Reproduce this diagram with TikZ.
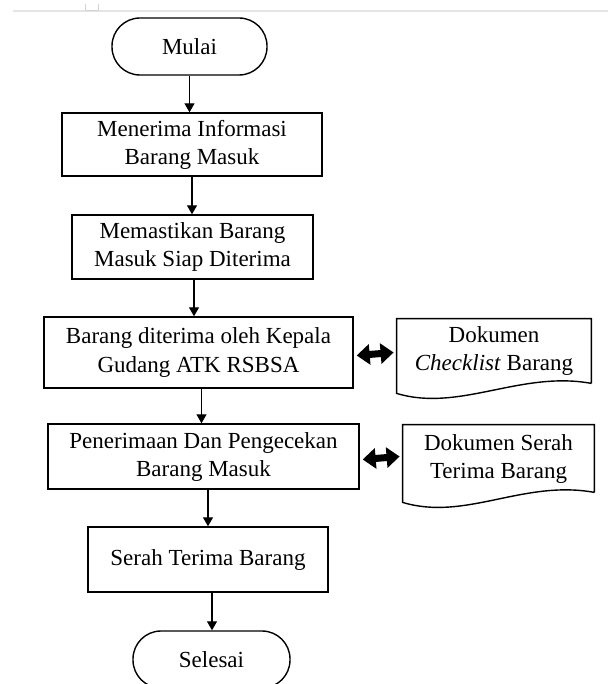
\documentclass[tikz,border=0pt]{standalone}
\usepackage{fontspec}
\setmainfont{Liberation Serif}
\usetikzlibrary{arrows.meta,calc}
\tikzset{>={Triangle[length=4.5pt,width=5pt]}}

\begin{document}
\begin{tikzpicture}[x=0.5pt, y=-0.5pt,
    font=\fontsize{11.5}{14}\selectfont,
    process/.style={draw, line width=0.7pt, align=center, inner sep=0pt},
    term/.style={draw, line width=0.7pt, rounded corners=14pt, inner sep=0pt},
    docbox/.style={align=center, inner sep=0pt},
    flow/.style={->, line width=0.6pt},
    link/.style={{Triangle[length=6.5pt,width=10pt]}-{Triangle[length=6.5pt,width=10pt]}, line width=3.5pt}]
  \useasboundingbox (0,0) rectangle (608,684);
  % page edge
  \draw[gray!20, line width=1pt] (13,11) -- (608,11);
  \draw[gray!35, line width=0.5pt] (85,4) -- (85,11) -- (98,11) -- (98,4);
  % steps
  \node[term, minimum width=77.5pt, minimum height=28.5pt] (start) at (189.5,46.5) {Mulai};
  \node[process, minimum width=130pt, minimum height=31.5pt] (info) at (192,144.5) {Menerima Informasi\\Barang Masuk};
  \node[process, minimum width=120.5pt, minimum height=32pt] (siap) at (192.5,247) {Memastikan Barang\\Masuk Siap Diterima};
  \node[process, minimum width=154.5pt, minimum height=35.5pt] (terima) at (198.5,352.5) {Barang diterima oleh Kepala\\Gudang ATK RSBSA};
  \node[process, minimum width=155.5pt, minimum height=32.5pt] (periksa) at (203.5,456.5) {Penerimaan Dan Pengecekan\\Barang Masuk};
  \node[process, minimum width=120pt, minimum height=32.5pt] (serah) at (208,559.5) {Serah Terima Barang};
  \node[term, minimum width=78.5pt, minimum height=28.5pt] (stop) at (211.5,659.5) {Selesai};
  % documents
  \node[docbox, minimum width=97pt, minimum height=32pt] (ceklist) at (494,351) {Dokumen\\\textit{Checklist} Barang};
  \node[docbox, minimum width=95.5pt, minimum height=33.5pt] (bast) at (498.5,458.5) {Dokumen Serah\\Terima Barang};
  \draw[line width=0.7pt] (ceklist.south east) -- (ceklist.north east) -- (ceklist.north west)
    -- ($(ceklist.south west)+(0,10)$) .. controls +(63,19) and +(-71,-13) .. (ceklist.south east);
  \draw[line width=0.7pt] (bast.south east) -- (bast.north east) -- (bast.north west)
    -- ($(bast.south west)+(0,10)$) .. controls +(63,19) and +(-71,-13) .. (bast.south east);
  % arrows
  \draw[flow] (start.south) -- (start.south |- info.north);
  \draw[flow] (info.south) -- (info.south |- siap.north);
  \draw[flow] ([xshift=0.75pt]siap.south) -- ([xshift=0.75pt]siap.south |- terima.north);
  \draw[flow] ([xshift=1.5pt]terima.south) -- ([xshift=1.5pt]terima.south |- periksa.north);
  \draw[flow] ([xshift=2.25pt]periksa.south) -- ([xshift=2.25pt]periksa.south |- serah.north);
  \draw[flow] ([xshift=2pt]serah.south) -- ([xshift=2pt]serah.south |- stop.north);
  \draw[link] ([xshift=1.5pt,yshift=-1.5pt]terima.east) -- ([xshift=-1.5pt]terima.east -| ceklist.west);
  \draw[link] ([xshift=1.5pt,yshift=-1.5pt]periksa.east) -- ([xshift=-1.5pt]periksa.east -| bast.west);
\end{tikzpicture}
\end{document}
